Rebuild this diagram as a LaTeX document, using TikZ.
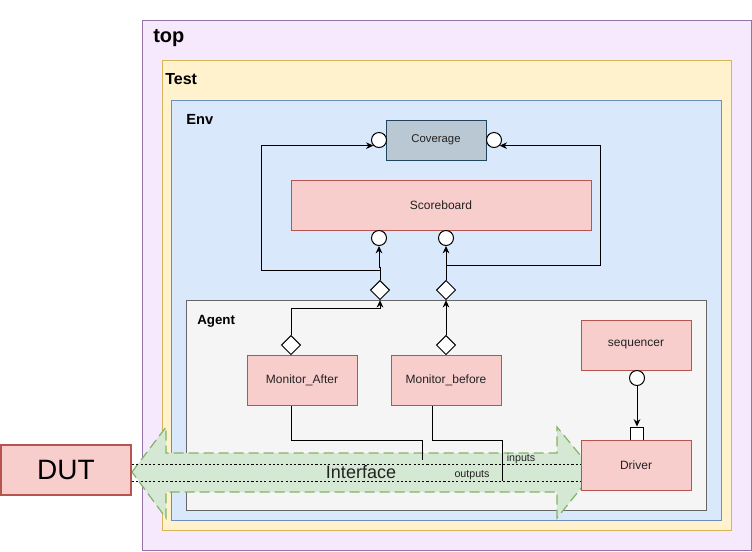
\documentclass[tikz,border=0pt]{standalone}
\usepackage{fontspec}
\setmainfont{Liberation Sans}
\usetikzlibrary{shapes.geometric,arrows.meta,calc}
\definecolor{topfill}{HTML}{F6E8FD}
\definecolor{topline}{HTML}{9673A6}
\definecolor{testfill}{HTML}{FFF2CC}
\definecolor{testline}{HTML}{D6B656}
\definecolor{envfill}{HTML}{DAE8FC}
\definecolor{envline}{HTML}{6C8EBF}
\definecolor{agfill}{HTML}{F5F5F5}
\definecolor{agline}{HTML}{666666}
\definecolor{redfill}{HTML}{F8CECC}
\definecolor{redline}{HTML}{B85450}
\definecolor{covfill}{HTML}{BAC8D3}
\definecolor{covline}{HTML}{23445D}
\definecolor{grfill}{HTML}{D5E8D4}
\definecolor{grline}{HTML}{82B366}
\definecolor{txt}{HTML}{222222}
\begin{document}
\begin{tikzpicture}[x=0.75pt,y=-0.75pt,
  container/.style={draw=#1line,fill=#1fill,line width=0.75pt,inner sep=0pt,anchor=north west},
  ctitle/.style={anchor=north west,inner sep=0pt,font=\bfseries,text=black},
  redbox/.style={draw=redline,fill=redfill,line width=0.75pt,minimum width=82.5pt,minimum height=37.5pt,inner sep=0pt,text=txt,font=\fontsize{9}{11}\selectfont},
  port/.style={circle,draw=black,fill=white,line width=0.75pt,minimum size=11.25pt,inner sep=0pt},
  dia/.style={diamond,draw=black,fill=white,line width=0.75pt,minimum size=14.5pt,inner sep=0pt,aspect=1},
  conn/.style={draw=black,line width=0.75pt,-{Stealth[length=5.5pt,width=5pt]}},
  wire/.style={draw=black,line width=0.75pt},
  dots/.style={draw=black,line width=0.6pt,dash pattern=on 1.6pt off 1.6pt},
]
\useasboundingbox (0,0) rectangle (752,551);
\fill[white] (0,0) rectangle (752,551);
% containers
\node[container=top,minimum width=456.75pt,minimum height=397.5pt] (topbox) at (142,20) {};
\node[ctitle,font=\fontsize{15}{18}\selectfont\bfseries] (toplbl) at (153,29) {top};
\node[container=test,minimum width=426.75pt,minimum height=352.5pt] (testbox) at (162,60) {};
\node[ctitle,font=\fontsize{12}{14}\selectfont\bfseries] (testlbl) at (165,73) {Test};
\node[container=env,minimum width=412.5pt,minimum height=315pt] (envbox) at (171,100) {};
\node[ctitle,font=\fontsize{11}{13}\selectfont\bfseries] (envlbl) at (186,114) {Env};
\node[container=ag,minimum width=390pt,minimum height=157.5pt] (agbox) at (186,300) {};
\node[ctitle,font=\fontsize{10}{12}\selectfont\bfseries] (aglbl) at (197,315) {Agent};
% blocks
\node[draw=covline,fill=covfill,line width=0.75pt,minimum width=75pt,minimum height=30pt,inner sep=0pt,text=txt,font=\fontsize{8.5}{10}\selectfont] (cov) at (436,140) {Coverage};
\node[redbox,minimum width=225pt] (sb) at (441,205) {Scoreboard};
\node[redbox] (ma) at (302,380) {Monitor\_After};
\node[redbox] (mb) at (446,380) {Monitor\_before};
\node[redbox] (seq) at (636,345) {sequencer};
% ports
\node[port] (cv1) at (379,140) {};
\node[port] (cv2) at (494,140) {};
\node[port] (c1) at (379,238) {};
\node[port] (c2) at (446,238) {};
\node[dia] (d1) at (380,290) {};
\node[dia] (d2) at (446,290) {};
\node[dia] (md1) at (291,345) {};
\node[dia] (md2) at (446,345) {};
\node[port] (sc) at (637,378) {};
\node[draw=black,fill=white,line width=0.75pt,minimum size=9.75pt,inner sep=0pt] (sq) at (637,433.5) {};
% connectors
\coordinate (lb) at (261,270);
\coordinate (rb) at (600,265);
\draw[conn] (d1.north) -- ++(0,-12) -| (c1.south);
\draw[conn] (d1.north) |- (lb) -- (lb |- cv1.-135) -- (cv1.-135);
\draw[conn] (d2.north) -- (c2.south);
\draw[conn] (d2.north) |- (rb) -- (rb |- cv2.-45) -- (cv2.-45);
\draw[conn] (md1.north) -- ++(0,-26) -| (d1.south);
\draw[conn] (md2.north) -- (d2.south);
\draw[conn] (sc.south) -- (sq.north);
% interface arrow
\coordinate (tipl) at (132,472);
\coordinate (tipr) at (594,472);
\path[fill=grfill,draw=grline,line width=0.9pt,dash pattern=on 7.5pt off 3.75pt]
  (tipl) -- (166,427) -- (166,453) -- (557,453) -- (557,427) -- (tipr)
  -- (557,518) -- (557,492) -- (166,492) -- (166,518) -- cycle;
\node[text=txt,font=\fontsize{13.5}{16}\selectfont,inner sep=0pt] (iflbl) at (361,472) {Interface};
% driver and DUT
\node[redbox] (drv) at (636,465) {Driver};
\node[draw=redline,fill=redfill,line width=1.5pt,minimum width=97.5pt,minimum height=37.5pt,inner sep=0pt,font=\fontsize{21}{24}\selectfont] (dut) at (66,470) {DUT};
% signal lines
\draw[dots] (tipl |- 0,464) -- (drv.west |- 0,464);
\draw[dots] (tipl |- 0,481) -- (drv.west |- 0,481);
\coordinate (e1) at (422,460);
\coordinate (e2) at (502,481);
\draw[wire] ($(ma.south)+(-11,0)$) -- ++(0,35) -| (e1);
\draw[wire] ($(mb.south)+(-14,0)$) -- ++(0,35) -| (e2);
\node[font=\fontsize{8}{10}\selectfont,text=txt,inner sep=0pt] (inlbl) at (521,459) {inputs};
\node[font=\fontsize{8}{10}\selectfont,text=txt,inner sep=0pt] (outlbl) at (472,475) {outputs};
\end{tikzpicture}
\end{document}
